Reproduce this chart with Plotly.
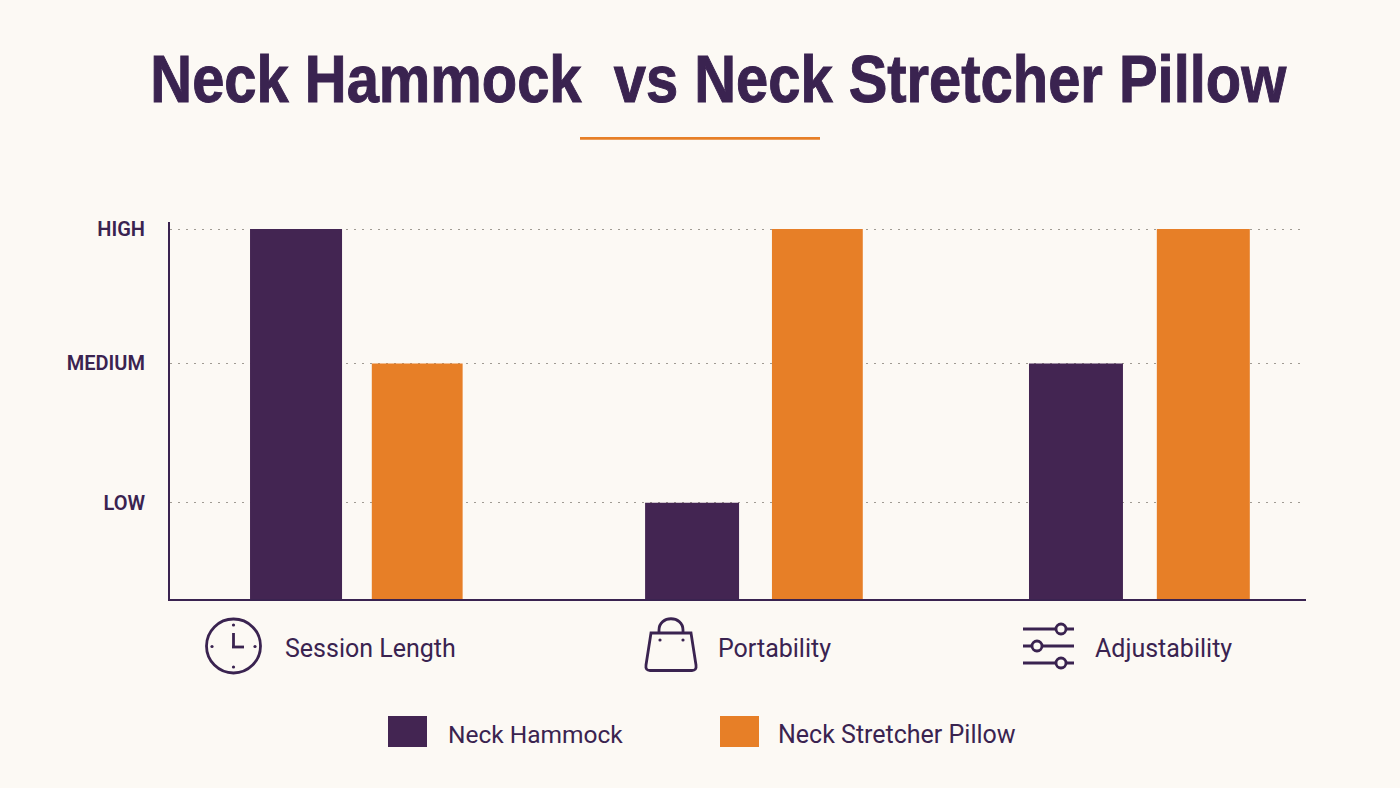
import plotly.graph_objects as go

W, H = 1400, 788
PURPLE = "#432552"
ORANGE = "#E77F27"
INK = "#3A2350"
PAPER = "#FCF9F4"
ICON_WIDTH = 2.8

# Chart data
CATEGORIES = ["Session Length", "Portability", "Adjustability"]
HAMMOCK = [3.0, 0.78, 1.91]
STRETCHER = [1.91, 3.0, 3.0]
LEVEL_VALUES = [0.78, 1.91, 3.0]
LEVEL_LABELS = ["LOW", "MEDIUM", "HIGH"]
SERIES_NAMES = ["Neck Hammock", "Neck Stretcher Pillow"]
TITLE = "Neck Hammock  vs Neck Stretcher Pillow"

# Per-bar placement relative to each category centre, in category units
HAMMOCK_OFFSET = [-0.273, -0.264, -0.2835]
HAMMOCK_WIDTH = [0.235, 0.240, 0.240]
STRETCHER_OFFSET = [0.038, 0.060, 0.043]
STRETCHER_WIDTH = [0.232, 0.232, 0.2375]


def px_x(x):
    return x / W


def px_y(y):
    return 1 - y / H


def line(x0, y0, x1, y1, width=ICON_WIDTH, color=INK):
    return dict(type="line", xref="paper", yref="paper",
                x0=px_x(x0), y0=px_y(y0), x1=px_x(x1), y1=px_y(y1),
                line=dict(color=color, width=width))


def ring(cx, cy, r, width=ICON_WIDTH, fill=None):
    return dict(type="circle", xref="paper", yref="paper",
                x0=px_x(cx - r), x1=px_x(cx + r), y0=px_y(cy + r), y1=px_y(cy - r),
                fillcolor=fill or "rgba(0,0,0,0)", line=dict(color=INK, width=width))


def dot(cx, cy, r=1.6):
    return dict(type="circle", xref="paper", yref="paper",
                x0=px_x(cx - r), x1=px_x(cx + r), y0=px_y(cy + r), y1=px_y(cy - r),
                fillcolor=INK, line=dict(width=0))


def path(commands, width=ICON_WIDTH):
    # Each command is a letter followed by pixel pairs
    parts = []
    for cmd in commands:
        parts.append(cmd[0])
        pts = cmd[1:]
        for i in range(0, len(pts), 2):
            parts.append(f"{px_x(pts[i]):.5f},{px_y(pts[i + 1]):.5f}")
    return dict(type="path", xref="paper", yref="paper", path=" ".join(parts),
                line=dict(color=INK, width=width))


def text(x, y, s, size, anchor="left", color=INK, weight=400, family="Roboto"):
    return dict(xref="paper", yref="paper", x=px_x(x), y=px_y(y), text=s,
                showarrow=False, xanchor=anchor, yanchor="middle",
                font=dict(family=family, size=size, color=color, weight=weight))


def bars(name, values, offset, width, color):
    return go.Bar(name=name, x=CATEGORIES, y=values, offset=offset, width=width,
                  marker=dict(color=color, line=dict(width=0)), showlegend=False)


fig = go.Figure([
    bars(SERIES_NAMES[0], HAMMOCK, HAMMOCK_OFFSET, HAMMOCK_WIDTH, PURPLE),
    bars(SERIES_NAMES[1], STRETCHER, STRETCHER_OFFSET, STRETCHER_WIDTH, ORANGE),
])

shapes = [
    line(580, 138.4, 820, 138.4, width=2.6, color=ORANGE),
    # clock icon
    ring(233.5, 646, 27),
    line(233.5, 633, 233.5, 647),
    line(232, 647, 244, 647),
    dot(233.5, 625), dot(233.5, 667), dot(212, 646.5), dot(255, 646.5),
    # bag icon
    path([("M", 651, 633), ("L", 691, 633),
          ("L", 696, 665), ("C", 696.6, 669, 695, 670.5, 692, 670.5),
          ("L", 650, 670.5), ("C", 647, 670.5, 645.4, 669, 646, 665), ("Z",)]),
    path([("M", 659, 633), ("L", 659, 630),
          ("C", 659, 615, 683, 615, 683, 630), ("L", 683, 633)]),
    dot(660, 640), dot(683, 640),
    # sliders icon
    line(1023, 629, 1074, 629),
    line(1023, 646, 1074, 646),
    line(1023, 663, 1074, 663),
    ring(1061, 629, 5, fill=PAPER),
    ring(1037, 646, 5, fill=PAPER),
    ring(1061, 663, 5, fill=PAPER),
    # legend swatches
    dict(type="rect", xref="paper", yref="paper", x0=px_x(388), x1=px_x(427),
         y0=px_y(747), y1=px_y(716), fillcolor=PURPLE, line=dict(width=0)),
    dict(type="rect", xref="paper", yref="paper", x0=px_x(720), x1=px_x(759),
         y0=px_y(747), y1=px_y(716), fillcolor=ORANGE, line=dict(width=0)),
]

annotations = [
    text(718, 78, TITLE, 67, anchor="center", weight=700, family="Liberation Sans"),
    text(283, 648, CATEGORIES[0], 25),
    text(716, 648, CATEGORIES[1], 25),
    text(1093, 648, CATEGORIES[2], 25),
    text(446, 734, SERIES_NAMES[0], 24.5),
    text(776, 734, SERIES_NAMES[1], 25),
]

fig.update_layout(
    width=W, height=H, autosize=False,
    margin=dict(l=0, r=0, t=0, b=0),
    paper_bgcolor=PAPER, plot_bgcolor=PAPER,
    showlegend=False, shapes=shapes, annotations=annotations,
    font=dict(family="Roboto", color=INK),
    xaxis=dict(domain=[170 / W, 1306 / W], range=[-0.4774, 2.424], automargin=False,
               type="category", categoryorder="array", categoryarray=CATEGORIES,
               showticklabels=False, ticks="", showgrid=False, zeroline=False,
               showline=True, linecolor=INK, linewidth=2),
    yaxis=dict(domain=[1 - 599 / H, 1 - 222 / H], range=[0, 3.057], automargin=False,
               tickmode="array", tickvals=LEVEL_VALUES, ticktext=LEVEL_LABELS,
               ticks="", ticklabelstandoff=19,
               tickfont=dict(family="Roboto", size=20, color=INK, weight=600),
               showgrid=True, gridcolor="#A09B93", gridwidth=1.2, griddash="2px,6px",
               zeroline=False, showline=True, linecolor=INK, linewidth=2),
)

# Condense and embolden the headline to the narrow heavy look of the layout
NARROW_TITLE = """
document.querySelectorAll('.annotation-text').forEach(function (t) {
  if (t.textContent.indexOf(' vs ') > 0) {
    var cx = parseFloat(t.getAttribute('x')) || 0;
    var sx = 1136 / t.getComputedTextLength();
    t.setAttribute('transform',
      'translate(' + cx + ',0) scale(' + sx + ',1) translate(' + (-cx) + ',0)');
    t.style.stroke = '#3A2350';
    t.style.strokeWidth = '1px';
  }
});
"""

fig.write_html("out.html", config=dict(displayModeBar=False), post_script=NARROW_TITLE)
